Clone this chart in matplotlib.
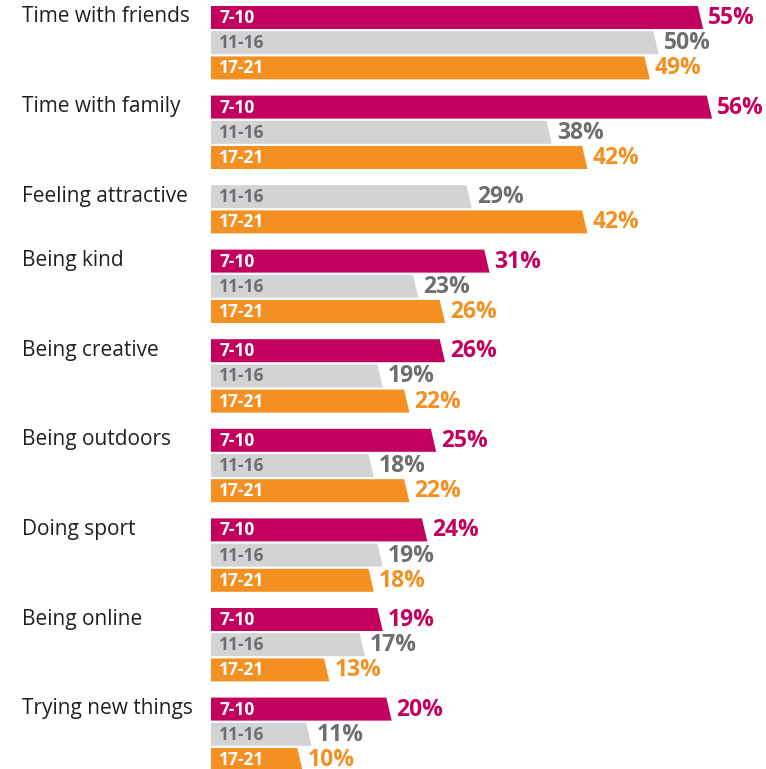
import matplotlib.pyplot as plt
from matplotlib.patches import Polygon

# Values (percent); None = not asked for that age group
categories = ['Time with friends', 'Time with family', 'Feeling attractive',
              'Being kind', 'Being creative', 'Being outdoors', 'Doing sport',
              'Being online', 'Trying new things']
age_groups = ['7-10', '11-16', '17-21']
v_7_10 = [55, 56, None, 31, 26, 25, 24, 19, 20]
v_11_16 = [50, 38, 29, 23, 19, 18, 19, 17, 11]
v_17_21 = [49, 42, 42, 26, 22, 22, 18, 13, 10]

bar_colors = ['#C4005E', '#D1D3D4', '#F39021']
name_colors = ['white', '#6D6E71', 'white']
value_colors = ['#C4005E', '#6D6E71', '#F39021']

plt.rcParams['font.family'] = ['Open Sans', 'DejaVu Sans']

W, H, DPI = 766, 769, 100
x0_px = 211          # left edge of bars
px_per_pct = 8.9
row_pitch = 25.2
bar_h = 23
group_gap = 14
slant = 0.3           # slanted bar end, in percent units

fig = plt.figure(figsize=(W / DPI, H / DPI), dpi=DPI)
ax = fig.add_axes([0, 0, 1, 1])
ax.set_xlim(-x0_px / px_per_pct, (W - x0_px) / px_per_pct)
ax.set_ylim(H, 0)
ax.axis('off')

y = 17.5
for i, cat in enumerate(categories):
    vals = [v_7_10[i], v_11_16[i], v_17_21[i]]
    first = True
    for j, v in enumerate(vals):
        if v is None:
            continue
        top, bot = y - bar_h / 2, y + bar_h / 2
        ax.add_patch(Polygon([(0, top), (v - slant, top), (v + slant, bot), (0, bot)],
                             closed=True, facecolor=bar_colors[j], edgecolor='none'))
        ax.text(8 / px_per_pct, y + 0.5, age_groups[j], color=name_colors[j],
                fontsize=12.5, fontweight='bold', va='center', ha='left')
        ax.text(v + slant + 5 / px_per_pct, y + 0.5, f'{v}%', color=value_colors[j],
                fontsize=16.5, fontweight='bold', va='center', ha='left')
        if first:
            ax.text((22 - x0_px) / px_per_pct, y + 5, cat, color='#231F20',
                    fontsize=15, va='baseline', ha='left')
            first = False
        y += row_pitch
    y += group_gap

fig.savefig('out.png', dpi=DPI)
